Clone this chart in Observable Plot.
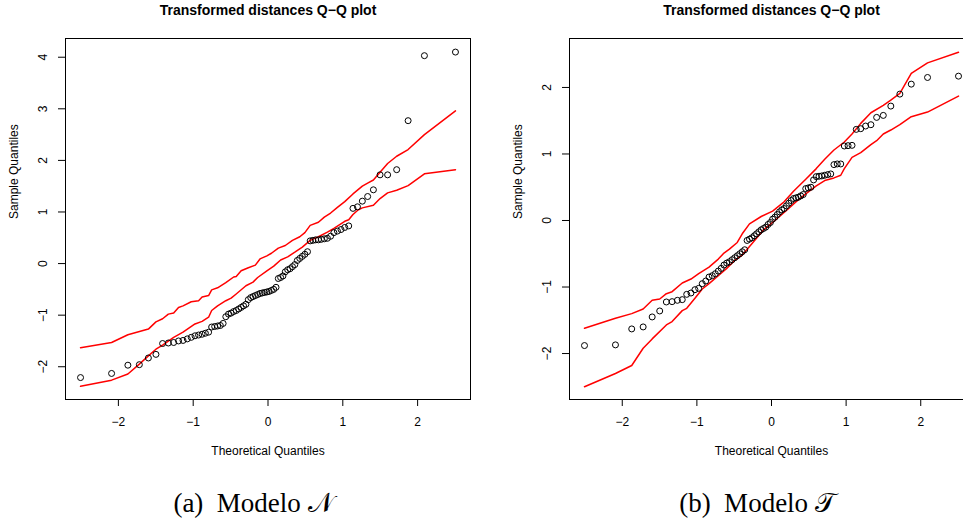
<!DOCTYPE html>
<html>
<head>
<meta charset="utf-8">
<script src="https://cdn.jsdelivr.net/npm/d3@7"></script>
<script src="https://cdn.jsdelivr.net/npm/@observablehq/plot@0.6"></script>
<style>
  html, body { margin: 0; padding: 0; background: #fff; }
  #wrap { position: relative; width: 963px; height: 524px; overflow: hidden; background: #fff; }
  .panel { position: absolute; top: 0; height: 524px; }
  .panel svg { max-width: none !important; display: block; }
</style>
</head>
<body>
<div id="wrap">
  <div class="panel" id="left" style="left:0px;width:480px"></div>
  <div class="panel" id="right" style="left:480px;width:500px"></div>
</div>
<script>
// Theoretical quantiles (x positions of the 82 points)
const quantiles = [-2.506,-2.091,-1.873,-1.720,-1.599,-1.498,-1.409,-1.332,-1.261,-1.196,
  -1.136,-1.079,-1.026,-0.976,-0.928,-0.881,-0.837,-0.794,-0.753,-0.713,
  -0.674,-0.637,-0.600,-0.564,-0.528,-0.493,-0.459,-0.425,-0.392,-0.359,
  -0.327,-0.295,-0.263,-0.231,-0.200,-0.169,-0.138,-0.107,-0.077,-0.046,
  -0.015,0.015,0.046,0.077,0.107,0.138,0.169,0.200,0.231,0.263,
  0.295,0.327,0.359,0.392,0.425,0.459,0.493,0.528,0.564,0.600,
  0.637,0.674,0.713,0.753,0.794,0.837,0.881,0.928,0.976,1.026,
  1.079,1.136,1.196,1.261,1.332,1.409,1.498,1.599,1.720,1.873,
  2.091,2.506];

// Sample quantiles, model N (panel a)
const sampleN = [-2.21,-2.13,-1.97,-1.96,-1.83,-1.76,-1.55,-1.54,-1.53,-1.50,
  -1.49,-1.46,-1.43,-1.40,-1.385,-1.37,-1.35,-1.33,-1.23,-1.22,
  -1.21,-1.20,-1.16,-1.03,-0.98,-0.96,-0.93,-0.91,-0.88,-0.85,
  -0.82,-0.79,-0.70,-0.66,-0.64,-0.62,-0.60,-0.58,-0.57,-0.56,
  -0.55,-0.54,-0.52,-0.50,-0.46,-0.29,-0.27,-0.24,-0.16,-0.12,
  -0.10,-0.06,-0.02,0.06,0.10,0.14,0.18,0.23,0.44,0.45,
  0.46,0.46,0.47,0.48,0.49,0.53,0.60,0.63,0.66,0.70,
  0.73,1.07,1.10,1.21,1.30,1.43,1.72,1.72,1.82,2.77,
  4.03,4.10];

// Sample quantiles, model T (panel b)
const sampleT = [-1.88,-1.87,-1.63,-1.60,-1.45,-1.36,-1.225,-1.22,-1.20,-1.19,
  -1.11,-1.09,-1.04,-1.02,-0.95,-0.91,-0.85,-0.83,-0.80,-0.76,
  -0.72,-0.67,-0.64,-0.62,-0.59,-0.56,-0.53,-0.50,-0.47,-0.44,
  -0.30,-0.28,-0.26,-0.23,-0.20,-0.17,-0.14,-0.12,-0.10,-0.06,
  -0.03,0.02,0.05,0.09,0.13,0.16,0.18,0.22,0.26,0.30,
  0.33,0.34,0.35,0.37,0.39,0.48,0.49,0.50,0.61,0.66,
  0.665,0.67,0.68,0.69,0.70,0.84,0.85,0.85,1.12,1.125,
  1.13,1.37,1.38,1.42,1.44,1.55,1.58,1.72,1.90,2.05,
  2.15,2.17];

// Envelope, model N
const envNUpperX = [-2.506,-2.091,-1.873,-1.599,-1.498,-1.409,-1.332,-1.261,-1.196,-1.136,-1.026,-0.928,-0.881,-0.794,-0.753,-0.674,-0.564,-0.459,-0.425,-0.359,-0.263,-0.169,-0.107,-0.015,0.046,0.138,0.231,0.327,0.425,0.493,0.564,0.674,0.753,0.837,0.928,1.026,1.136,1.261,1.332,1.409,1.498,1.599,1.720,1.873,2.091,2.506];
const envNUpper  = [-1.63,-1.53,-1.38,-1.27,-1.13,-1.07,-0.98,-0.96,-0.85,-0.82,-0.74,-0.72,-0.65,-0.62,-0.51,-0.47,-0.37,-0.26,-0.25,-0.14,-0.08,-0.03,0.09,0.15,0.20,0.30,0.35,0.45,0.52,0.60,0.74,0.80,0.90,0.98,1.09,1.20,1.35,1.50,1.56,1.62,1.77,1.94,2.08,2.21,2.50,2.96];
const envNLowerX = [-2.506,-2.091,-1.873,-1.720,-1.599,-1.498,-1.409,-1.261,-1.136,-0.976,-0.881,-0.794,-0.753,-0.674,-0.564,-0.493,-0.425,-0.295,-0.200,-0.138,-0.015,0.077,0.169,0.263,0.359,0.459,0.564,0.674,0.794,0.881,1.026,1.079,1.136,1.196,1.261,1.409,1.498,1.599,1.720,1.873,2.091,2.506];
const envNLower  = [-2.38,-2.26,-2.14,-1.95,-1.79,-1.66,-1.58,-1.43,-1.33,-1.17,-1.12,-1.04,-0.91,-0.82,-0.72,-0.67,-0.59,-0.43,-0.36,-0.27,-0.14,-0.05,0.07,0.13,0.22,0.32,0.45,0.52,0.61,0.68,0.82,0.85,0.95,1.03,1.08,1.13,1.26,1.37,1.42,1.51,1.74,1.82];

// Envelope, model T
const envTUpperX = [-2.506,-2.091,-1.873,-1.720,-1.599,-1.498,-1.409,-1.332,-1.196,-1.079,-0.976,-0.837,-0.713,-0.637,-0.564,-0.459,-0.392,-0.295,-0.138,0.015,0.169,0.295,0.459,0.600,0.713,0.837,0.976,1.079,1.196,1.332,1.498,1.599,1.720,1.873,2.091,2.506];
const envTUpper  = [-1.62,-1.47,-1.40,-1.33,-1.20,-1.18,-1.10,-1.07,-0.94,-0.88,-0.80,-0.70,-0.58,-0.49,-0.43,-0.33,-0.20,-0.05,0.06,0.14,0.28,0.44,0.62,0.78,0.92,1.06,1.18,1.30,1.46,1.62,1.73,1.81,1.91,2.21,2.37,2.53];
const envTLowerX = [-2.506,-2.091,-1.873,-1.720,-1.599,-1.409,-1.332,-1.196,-1.136,-1.026,-0.928,-0.837,-0.713,-0.600,-0.493,-0.392,-0.263,-0.107,0.046,0.200,0.327,0.459,0.600,0.713,0.837,0.928,0.976,1.079,1.196,1.332,1.409,1.498,1.599,1.720,1.873,2.091,2.506];
const envTLower  = [-2.50,-2.30,-2.18,-1.92,-1.78,-1.57,-1.52,-1.355,-1.32,-1.17,-1.03,-0.95,-0.83,-0.72,-0.60,-0.52,-0.35,-0.14,0.00,0.15,0.28,0.40,0.52,0.60,0.64,0.68,0.78,0.95,1.02,1.14,1.20,1.30,1.36,1.44,1.56,1.63,1.87];

// Axis ticks and texts
const xTicks = [-2, -1, 0, 1, 2];
const yTicksN = [-2, -1, 0, 1, 2, 3, 4];
const yTicksT = [-2, -1, 0, 1, 2];
const titleText = "Transformed distances Q\u2212Q plot";
const xLabelText = "Theoretical Quantiles";
const yLabelText = "Sample Quantiles";
const captionN = "(a)\u2002Modelo \u{1D4A9}";
const captionT = "(b)\u2002Modelo \u{1D4AF}";

const fmt = d => d < 0 ? "\u2212" + Math.abs(d) : String(d);
const toPairs = (xs, ys) => xs.map((x, i) => ({x, y: ys[i]}));

function panel({sample, upX, up, loX, lo, yDomain, yTicks, caption, width, marginLeft, marginRight, capDx}) {
  const pts = toPairs(quantiles, sample);
  return Plot.plot({
    width, height: 524,
    marginLeft, marginRight, marginTop: 38, marginBottom: 125,
    style: {fontFamily: "'Liberation Sans', Arial, Helvetica, sans-serif", fontSize: "12px", background: "white", color: "black", overflow: "visible", maxWidth: "none"},
    x: {domain: [-2.707, 2.707]},
    y: {domain: yDomain},
    marks: [
      Plot.frame({stroke: "black", strokeWidth: 1}),
      Plot.axisX({ticks: xTicks, tickSize: 7, tickPadding: 10.5, fontSize: 12, label: null, tickFormat: fmt}),
      Plot.axisY({ticks: yTicks, tickSize: 7, label: null, tickFormat: () => ""}),
      Plot.text(yTicks, {y: d => d, frameAnchor: "left", dx: -22, rotate: -90, text: fmt, textAnchor: "middle", lineAnchor: "middle", fontSize: 12}),
      Plot.line(toPairs(upX, up), {x: "x", y: "y", stroke: "#ff0000", strokeWidth: 1.5}),
      Plot.line(toPairs(loX, lo), {x: "x", y: "y", stroke: "#ff0000", strokeWidth: 1.5}),
      Plot.dot(pts, {x: "x", y: "y", r: 3, stroke: "black", strokeWidth: 1, fill: "none"}),
      Plot.text([titleText], {frameAnchor: "top", dy: -24, lineAnchor: "bottom", fontWeight: "bold", fontSize: 14}),
      Plot.text([xLabelText], {frameAnchor: "bottom", dy: 55, lineAnchor: "bottom", fontSize: 12}),
      Plot.text([yLabelText], {frameAnchor: "left", dx: -51, rotate: -90, lineAnchor: "middle", fontSize: 12}),
      Plot.text([caption], {frameAnchor: "bottom", dx: capDx, dy: 112.7, lineAnchor: "bottom", fontFamily: "'Liberation Serif', 'Times New Roman', serif", fontSize: 27})
    ]
  });
}

document.getElementById("left").appendChild(panel({
  sample: sampleN, upX: envNUpperX, up: envNUpper, loX: envNLowerX, lo: envNLower,
  yDomain: [-2.635, 4.363], yTicks: yTicksN, caption: captionN,
  width: 480, marginLeft: 65, marginRight: 10, capDx: -14.5
}));
document.getElementById("right").appendChild(panel({
  sample: sampleT, upX: envTUpperX, up: envTUpper, loX: envTLowerX, lo: envTLower,
  yDomain: [-2.691, 2.736], yTicks: yTicksT, caption: captionT,
  width: 500, marginLeft: 89, marginRight: 7, capDx: -14
}));
</script>
</body>
</html>
